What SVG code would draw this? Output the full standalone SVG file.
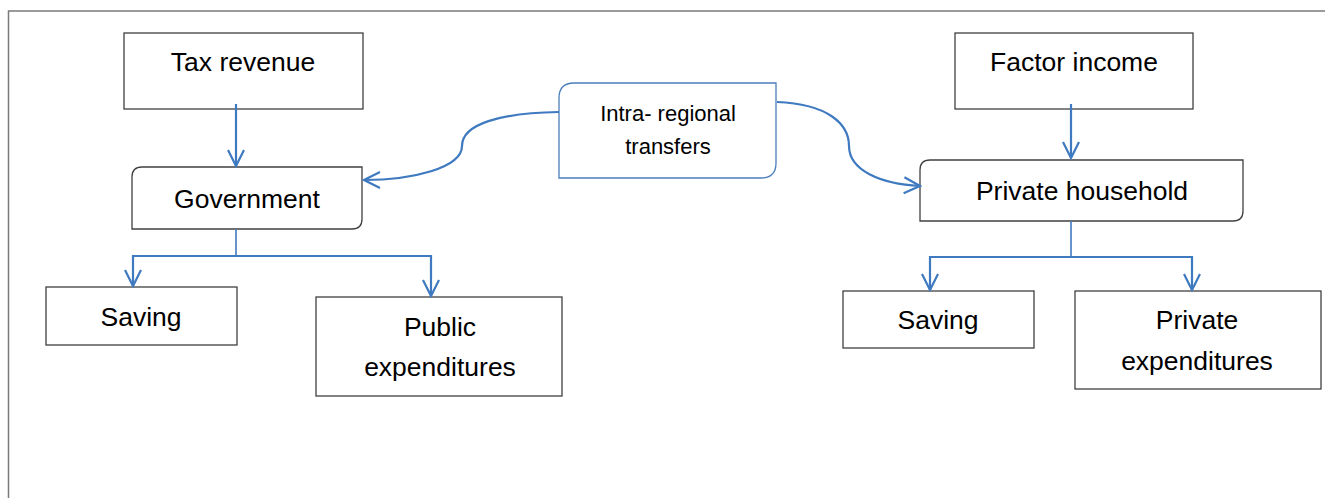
<svg xmlns="http://www.w3.org/2000/svg" width="1325" height="498" viewBox="0 0 1325 498">
<style>
.box{fill:#fff;stroke:#404040;stroke-width:1.3}
.blue{fill:#fff;stroke:#4a7ebb;stroke-width:1.3}
.t{font-family:"Liberation Sans",Arial,sans-serif;font-size:26.5px;fill:#000;text-anchor:middle}
.s{font-family:"Liberation Sans",Arial,sans-serif;font-size:22px;fill:#000;text-anchor:middle}
.c{fill:none;stroke:#3f7ac0;stroke-width:2.2}
.frame{fill:none;stroke:#7a7a7a;stroke-width:1.5}
</style>
<defs>
<marker id="ah" viewBox="0 0 20 20" refX="18" refY="10" markerWidth="20" markerHeight="20" markerUnits="userSpaceOnUse" orient="auto">
<path d="M2,2 L18,10 L2,18" fill="none" stroke="#3f7ac0" stroke-width="2.2"/>
</marker>
</defs>
<rect width="1325" height="498" fill="#fff"/>
<path class="frame" d="M8.5,498 V11 H1325"/>
<g id="tax-revenue"><rect class="box" x="124" y="33" width="239" height="76"/><text class="t" x="243" y="71">Tax revenue</text></g>
<g id="government"><path class="box" d="M142,167 H362 V219 Q362,229 352,229 H132 V177 Q132,167 142,167 Z"/><text class="t" x="247" y="208">Government</text></g>
<g id="intra-regional"><path class="blue" d="M574,83 H776 V163 Q776,178 761,178 H559 V98 Q559,83 574,83 Z"/><text class="s" x="668" y="121">Intra- regional</text><text class="s" x="668" y="154">transfers</text></g>
<g id="factor-income"><rect class="box" x="955" y="33" width="238" height="76"/><text class="t" x="1074" y="71">Factor income</text></g>
<g id="private-household"><path class="box" d="M930,160 H1243 V211 Q1243,221 1233,221 H920 V170 Q920,160 930,160 Z"/><text class="t" x="1082" y="200">Private household</text></g>
<g id="saving-gov"><rect class="box" x="46" y="287" width="191" height="58"/><text class="t" x="141" y="326">Saving</text></g>
<g id="public-exp"><rect class="box" x="316" y="297" width="246" height="99"/><text class="t" x="440" y="336">Public</text><text class="t" x="440" y="376">expenditures</text></g>
<g id="saving-ph"><rect class="box" x="843" y="291" width="191" height="57"/><text class="t" x="938" y="329">Saving</text></g>
<g id="private-exp"><rect class="box" x="1075" y="291" width="246" height="98"/><text class="t" x="1197" y="329">Private</text><text class="t" x="1197" y="370">expenditures</text></g>
<g id="connectors">
<path class="c" d="M236,104 V166" marker-end="url(#ah)"/>
<path class="c" d="M1071,104 V158" marker-end="url(#ah)"/>
<path class="c" d="M236,229 V256" style="stroke-width:1.6"/>
<path class="c" d="M236,256 H431 V296" marker-end="url(#ah)"/>
<path class="c" d="M236,256 H133 V286" marker-end="url(#ah)"/>
<path class="c" d="M1071,221 V257" style="stroke-width:1.6"/>
<path class="c" d="M1071,257 H930 V290" marker-end="url(#ah)"/>
<path class="c" d="M1071,257 H1192 V290" marker-end="url(#ah)"/>
<path class="c" d="M559,112 C500,113 462,124 462,146 C462,168 412,180 364,180" marker-end="url(#ah)"/>
<path class="c" d="M777,102 C828,104 849,124 849,146 C849,170 880,184 920,186" marker-end="url(#ah)"/>
</g>
</svg>
